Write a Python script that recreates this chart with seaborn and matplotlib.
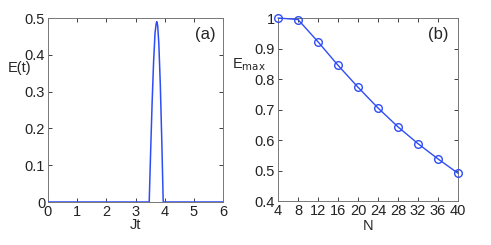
import numpy as np
import pandas as pd
import matplotlib
matplotlib.use("Agg")
import matplotlib.pyplot as plt
import seaborn as sns

# data
jt = [0.0, 3.47, 3.52, 3.57, 3.62, 3.67, 3.71, 3.73, 3.76, 3.80, 3.85, 3.90, 3.95, 6.0]
e_t = [0.0, 0.0, 0.14, 0.27, 0.38, 0.46, 0.485, 0.49, 0.48, 0.43, 0.32, 0.17, 0.0, 0.0]

n_vals = [4, 8, 12, 16, 20, 24, 28, 32, 36, 40]
e_max = [1.0, 0.995, 0.922, 0.845, 0.773, 0.705, 0.643, 0.588, 0.538, 0.491]

sns.set_style("ticks")
plt.rcParams["font.family"] = ["Liberation Sans", "DejaVu Sans"]
blue = "#2f4df5"

fig = plt.figure(figsize=(4.91, 2.45), dpi=100)
ax1 = fig.add_axes([48 / 491, 1 - 202 / 245, 175 / 491, 184 / 245])
ax2 = fig.add_axes([278 / 491, 1 - 201 / 245, 180 / 491, 183 / 245])

df_a = pd.DataFrame({"Jt": jt, "E": e_t})
sns.lineplot(data=df_a, x="Jt", y="E", sort=False, color=blue, lw=1.1, ax=ax1, zorder=3)
ax1.set_xlim(0, 6)
ax1.set_ylim(0, 0.5)
ax1.set_xticks(range(0, 7))
ax1.set_yticks([0, 0.1, 0.2, 0.3, 0.4, 0.5])
ax1.set_yticklabels(["0", "0.1", "0.2", "0.3", "0.4", "0.5"])
ax1.set_xlabel("Jt", fontsize=10.5)
ax1.set_ylabel("E(t)", fontsize=10.5, rotation=0, ha="left", va="center")
ax1.yaxis.set_label_coords(-0.23, 0.73)
ax1.xaxis.set_label_coords(0.5, -0.085)
ax1.xaxis.label.set_va("top")
ax1.text(0.897, 0.91, "(a)", transform=ax1.transAxes, ha="center", va="center", fontsize=12)

df_b = pd.DataFrame({"N": n_vals, "Emax": e_max})
sns.lineplot(data=df_b, x="N", y="Emax", color=blue, lw=1.0, marker="o", ms=5.5,
             markerfacecolor="none", markeredgecolor=blue, markeredgewidth=1.0, ax=ax2,
             clip_on=False, zorder=3)
ax2.set_xlim(4, 40)
ax2.set_ylim(0.4, 1.0)
ax2.set_xticks(n_vals)
ax2.set_yticks([0.4, 0.5, 0.6, 0.7, 0.8, 0.9, 1.0])
ax2.set_yticklabels(["0.4", "0.5", "0.6", "0.7", "0.8", "0.9", "1"])
ax2.set_xlabel("N", fontsize=10.5)
ax2.xaxis.set_label_coords(0.5, -0.1)
ax2.xaxis.label.set_va("top")
ax2.set_ylabel(r"E$_{\rm max}$", fontsize=10.5, rotation=0, ha="left", va="center")
ax2.yaxis.set_label_coords(-0.255, 0.745)
ax2.text(0.89, 0.91, "(b)", transform=ax2.transAxes, ha="center", va="center", fontsize=12)

for ax in (ax1, ax2):
    ax.tick_params(direction="in", top=True, right=True, length=3, width=0.6,
                   labelsize=10.5, pad=2, colors="#222222")
    for sp in ax.spines.values():
        sp.set_color("#777777")
        sp.set_linewidth(0.7)
        sp.set_visible(True)

fig.savefig("out.png", dpi=100)
